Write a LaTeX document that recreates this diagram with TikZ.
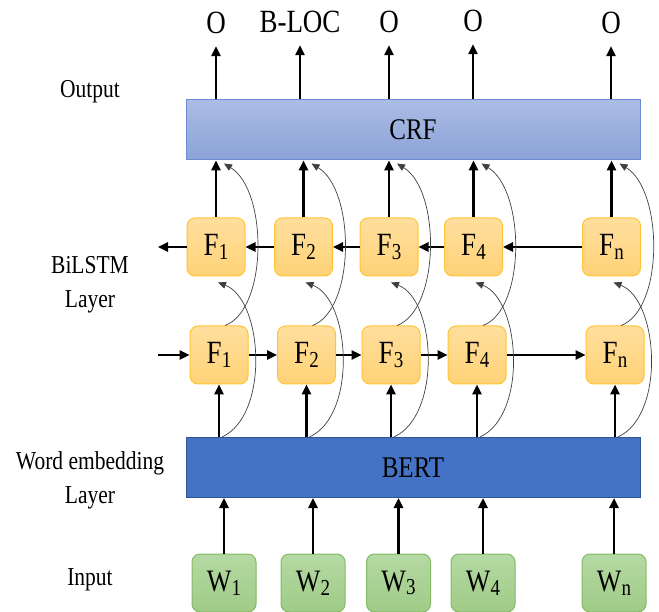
\documentclass[tikz,border=0pt]{standalone}
\usepackage{fontspec}
\setmainfont{Liberation Serif}
\usepackage{graphicx}
\usepackage{tikz}
\usetikzlibrary{arrows.meta}
\definecolor{celltop}{HTML}{FFDF9E}
\definecolor{cellbot}{HTML}{FFD277}
\definecolor{cellline}{HTML}{FFC433}
\definecolor{wordtop}{HTML}{B5D9A3}
\definecolor{wordbot}{HTML}{9FCB87}
\definecolor{wordline}{HTML}{82BA66}
\definecolor{crftop}{HTML}{ABBCE4}
\definecolor{crfbot}{HTML}{8CA3D7}
\definecolor{crfline}{HTML}{6D8ED4}
\definecolor{bertfill}{HTML}{4472C4}
\definecolor{bertline}{HTML}{2F5597}
\newcommand{\tall}[1]{\scalebox{1}[1.2]{#1}}
\newcommand{\ix}[1]{\raisebox{-3pt}{\fontsize{19}{19}\selectfont #1}}

\begin{document}
\begin{tikzpicture}[x=1pt,y=-1pt,
    cell/.style={draw=cellline,line width=1pt,rounded corners=8pt,top color=celltop,bottom color=cellbot,
      minimum width=58pt,minimum height=58pt,inner sep=0pt,font=\fontsize{27}{27}\selectfont},
    word/.style={draw=wordline,line width=1pt,rounded corners=8pt,top color=wordtop,bottom color=wordbot,
      minimum width=64pt,minimum height=58pt,inner sep=0pt,font=\fontsize{26}{26}\selectfont},
    layer/.style={line width=1pt,minimum width=454pt,minimum height=60pt,inner sep=0pt,font=\fontsize{25}{25}\selectfont},
    tag/.style={inner sep=0pt,font=\fontsize{27}{27}\selectfont},
    side/.style={align=center,inner sep=0pt,font=\fontsize{21.5}{34}\selectfont},
    flow/.style={-{Triangle[length=10pt,width=9pt]},line width=2.4pt},
    skip/.style={-{Triangle[length=8pt,width=7pt]},line width=0.7pt,draw=black!75}]
  \useasboundingbox (0,0) rectangle (659,612);

  % side labels
  \node[side] (lbout) at (90,92) {\tall{Output}};
  \node[side] (lblstm) at (90,285) {\tall{BiLSTM}\\\tall{Layer}};
  \node[side] (lbemb) at (90,480) {\tall{Word embedding}\\\tall{Layer}};
  \node[side] (lbin) at (90,580) {\tall{Input}};

  % layers
  \node[layer,draw=crfline,top color=crftop,bottom color=crfbot] (crf) at (413,130) {\tall{CRF}};
  \node[layer,draw=bertline,fill=bertfill] (bert) at (413,467.5) {\tall{BERT}};

  % output tags
  \node[tag] (o1) at (216,23) {\tall{O}};
  \node[tag] (o2) at (300,22) {\tall{B-LOC}};
  \node[tag] (o3) at (389,22) {\tall{O}};
  \node[tag] (o4) at (473,21) {\tall{O}};
  \node[tag] (o5) at (611,23) {\tall{O}};

  % backward cells
  \node[cell] (ft1) at (216,247) {\tall{F\ix{1}}};
  \node[cell] (ft2) at (303.5,247) {\tall{F\ix{2}}};
  \node[cell] (ft3) at (389,247) {\tall{F\ix{3}}};
  \node[cell] (ft4) at (473.5,247) {\tall{F\ix{4}}};
  \node[cell] (ft5) at (611.5,247) {\tall{F\ix{n}}};

  % forward cells
  \node[cell] (fb1) at (219,355) {\tall{F\ix{1}}};
  \node[cell] (fb2) at (306.5,355) {\tall{F\ix{2}}};
  \node[cell] (fb3) at (391,355) {\tall{F\ix{3}}};
  \node[cell] (fb4) at (477,355) {\tall{F\ix{4}}};
  \node[cell] (fb5) at (615,355) {\tall{F\ix{n}}};

  % input words
  \node[word] (w1) at (224,583) {\tall{W\ix{1}}};
  \node[word] (w2) at (313,583) {\tall{W\ix{2}}};
  \node[word] (w3) at (398.5,583) {\tall{W\ix{3}}};
  \node[word] (w4) at (483,583) {\tall{W\ix{4}}};
  \node[word] (w5) at (614,583) {\tall{W\ix{n}}};

  \coordinate (fin) at (158,355);
  \coordinate (bout) at (158,247);

  % recurrent arrows
  \draw[flow] (fin) -- (fb1.west);
  \draw[flow] (fb1.east) -- (fb2.west);
  \draw[flow] (fb2.east) -- (fb3.west);
  \draw[flow] (fb3.east) -- (fb4.west);
  \draw[flow] (fb4.east) -- (fb5.west);
  \draw[flow] (ft1.west) -- (bout);
  \draw[flow] (ft2.west) -- (ft1.east);
  \draw[flow] (ft3.west) -- (ft2.east);
  \draw[flow] (ft4.west) -- (ft3.east);
  \draw[flow] (ft5.west) -- (ft4.east);

  \foreach \i in {1,...,5}{
    \draw[flow] (w\i.north) -- (w\i.north |- bert.south);
    \draw[flow] (fb\i.south |- bert.north) -- (fb\i.south);
    \draw[flow] (ft\i.north) -- (ft\i.north |- crf.south);
    \draw[flow] (o\i |- crf.north) -- ([yshift=-12pt]o\i.south);
    % skip curves
    \draw[skip] ([xshift=3pt]fb\i.south |- bert.north) .. controls +(48,-22) and +(45,17) .. ([xshift=2pt,yshift=-6pt]ft\i.south);
    \draw[skip] ([xshift=6pt]fb\i.north) .. controls +(43,-16) and +(44,27) .. ([xshift=8pt,yshift=-3pt]ft\i.north |- crf.south);
  }
\end{tikzpicture}
\end{document}
